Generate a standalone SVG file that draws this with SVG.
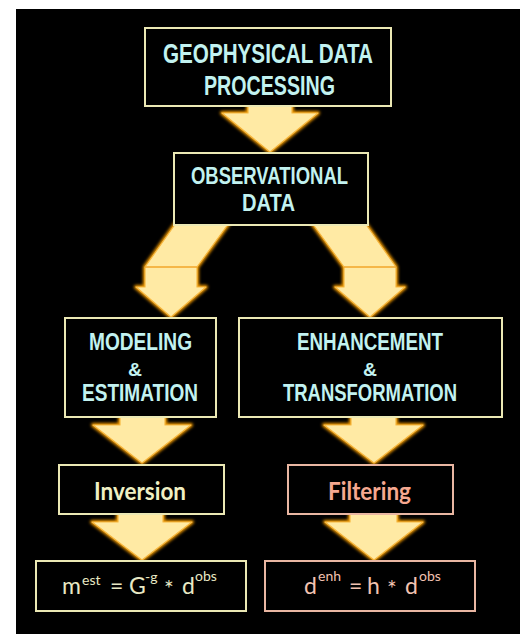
<svg xmlns="http://www.w3.org/2000/svg" width="528" height="634" viewBox="0 0 528 634">
  <defs>
    <filter id="glow" x="-20%" y="-20%" width="140%" height="140%">
      <feGaussianBlur stdDeviation="1.6"/>
    </filter>
    <style>
      .box { fill: #000; stroke: #ebe8b4; stroke-width: 2; }
      .box-warm { fill: #000; stroke: #e9b6a2; stroke-width: 2; }
      .arrow-halo { fill: none; stroke: #f29a00; stroke-width: 4; stroke-linejoin: round; filter: url(#glow); }
      .arrow { fill: #ffeaa4; stroke: #f7b840; stroke-width: 1.2; stroke-linejoin: round; }
      .seam { stroke: #f2a62a; stroke-width: 1.5; }
      .cap { font-family: "Liberation Sans Narrow", "Liberation Sans", Arial, sans-serif; font-weight: bold; fill: #c2f2f0; }
      .big { font-size: 28.5px; }
      .mid { font-size: 24px; }
      .low { font-size: 23px; }
      .amp { font-size: 19px; }
      .label { font-family: Lato, "Open Sans", "Liberation Sans", sans-serif; font-weight: bold; font-size: 25px; }
      .eq { font-family: Lato, "Open Sans", "Liberation Sans", sans-serif; font-size: 23px; }
      .sup { font-size: 14px; }
    </style>
  </defs>

  <rect x="0" y="0" width="528" height="634" fill="#fff"/>
  <rect x="16" y="9" width="504" height="625" fill="#000"/>

  <g id="connectors">
    <!-- processing to observational data -->
    <g>
      <path class="arrow-halo" d="M248,104 L292,104 L292,113 L318,113 L270,152 L222,113 L248,113 Z"/>
      <path class="arrow" d="M248,104 L292,104 L292,113 L318,113 L270,152 L222,113 L248,113 Z"/>
    </g>
    <!-- observational data to modeling -->
    <g>
      <path class="arrow-halo" d="M176,223 L229,223 L197,267 L197,287 L206,287 L171,317 L136,287 L145,287 L145,267 Z"/>
      <path class="arrow" d="M176,223 L229,223 L197,267 L197,287 L206,287 L171,317 L136,287 L145,287 L145,267 Z"/>
      <line class="seam" x1="145" y1="267" x2="197" y2="267"/>
    </g>
    <!-- observational data to enhancement -->
    <g>
      <path class="arrow-halo" d="M312,223 L365,223 L396,267 L396,287 L405,287 L370,317 L335,287 L344,287 L344,267 Z"/>
      <path class="arrow" d="M312,223 L365,223 L396,267 L396,287 L405,287 L370,317 L335,287 L344,287 L344,267 Z"/>
      <line class="seam" x1="344" y1="267" x2="396" y2="267"/>
    </g>
    <!-- modeling to inversion -->
    <g>
      <path class="arrow-halo" d="M120,415 L165,415 L165,425 L191,425 L142,463 L93,425 L120,425 Z"/>
      <path class="arrow" d="M120,415 L165,415 L165,425 L191,425 L142,463 L93,425 L120,425 Z"/>
    </g>
    <!-- enhancement to filtering -->
    <g>
      <path class="arrow-halo" d="M351,415 L396,415 L396,425 L423,425 L374,463 L324,425 L351,425 Z"/>
      <path class="arrow" d="M351,415 L396,415 L396,425 L423,425 L374,463 L324,425 L351,425 Z"/>
    </g>
    <!-- inversion to estimate -->
    <g>
      <path class="arrow-halo" d="M118,512 L163,512 L163,522 L192,522 L142,560 L92,522 L118,522 Z"/>
      <path class="arrow" d="M118,512 L163,512 L163,522 L192,522 L142,560 L92,522 L118,522 Z"/>
    </g>
    <!-- filtering to enhanced data -->
    <g>
      <path class="arrow-halo" d="M350,512 L397,512 L397,522 L423,522 L374,560 L325,522 L350,522 Z"/>
      <path class="arrow" d="M350,512 L397,512 L397,522 L423,522 L374,560 L325,522 L350,522 Z"/>
    </g>
  </g>

  <g id="geophysical-data-processing">
    <rect class="box" x="145" y="28" width="246" height="78"/>
    <text class="cap big" x="163" y="63" textLength="210" lengthAdjust="spacingAndGlyphs">GEOPHYSICAL DATA</text>
    <text class="cap big" x="204" y="95" textLength="131" lengthAdjust="spacingAndGlyphs">PROCESSING</text>
  </g>

  <g id="observational-data">
    <rect class="box" x="174" y="153" width="194" height="72"/>
    <text class="cap mid" x="191" y="184" textLength="157" lengthAdjust="spacingAndGlyphs">OBSERVATIONAL</text>
    <text class="cap mid" x="242" y="211" textLength="53" lengthAdjust="spacingAndGlyphs">DATA</text>
  </g>

  <g id="modeling-estimation">
    <rect class="box" x="65" y="318" width="151" height="99"/>
    <text class="cap mid" x="89" y="350" textLength="103" lengthAdjust="spacingAndGlyphs">MODELING</text>
    <text class="cap amp" x="128" y="376" textLength="14" lengthAdjust="spacingAndGlyphs">&amp;</text>
    <text class="cap low" x="82" y="401" textLength="116" lengthAdjust="spacingAndGlyphs">ESTIMATION</text>
  </g>

  <g id="enhancement-transformation">
    <rect class="box" x="239" y="318" width="263" height="99"/>
    <text class="cap mid" x="297" y="350" textLength="146" lengthAdjust="spacingAndGlyphs">ENHANCEMENT</text>
    <text class="cap amp" x="363" y="376" textLength="14" lengthAdjust="spacingAndGlyphs">&amp;</text>
    <text class="cap low" x="283" y="401" textLength="174" lengthAdjust="spacingAndGlyphs">TRANSFORMATION</text>
  </g>

  <g id="inversion">
    <rect class="box" x="59" y="465" width="165" height="49"/>
    <text class="label" x="94" y="500" fill="#f0f0c4" textLength="92" lengthAdjust="spacingAndGlyphs">Inversion</text>
  </g>

  <g id="filtering">
    <rect class="box-warm" x="288" y="465" width="165" height="49"/>
    <text class="label" x="328" y="500" fill="#f6a890" textLength="83" lengthAdjust="spacingAndGlyphs">Filtering</text>
  </g>

  <g id="model-estimate">
    <rect class="box" x="36" y="561" width="210" height="50"/>
    <text class="eq" fill="#e8e8c4">
      <tspan x="62" y="594">m</tspan>
      <tspan class="sup" x="82" y="585">est</tspan>
      <tspan x="110" y="594">=</tspan>
      <tspan x="129" y="594">G</tspan>
      <tspan class="sup" x="145" y="582">-g</tspan>
      <tspan x="164" y="597">*</tspan>
      <tspan x="182" y="594">d</tspan>
      <tspan class="sup" x="195" y="581">obs</tspan>
    </text>
  </g>

  <g id="enhanced-data">
    <rect class="box-warm" x="265" y="561" width="210" height="50"/>
    <text class="eq" fill="#f2c2b0">
      <tspan x="304" y="594">d</tspan>
      <tspan class="sup" x="318" y="581">enh</tspan>
      <tspan x="349" y="594">=</tspan>
      <tspan x="367" y="594">h</tspan>
      <tspan x="387" y="597">*</tspan>
      <tspan x="405" y="594">d</tspan>
      <tspan class="sup" x="419" y="581">obs</tspan>
    </text>
  </g>
</svg>
